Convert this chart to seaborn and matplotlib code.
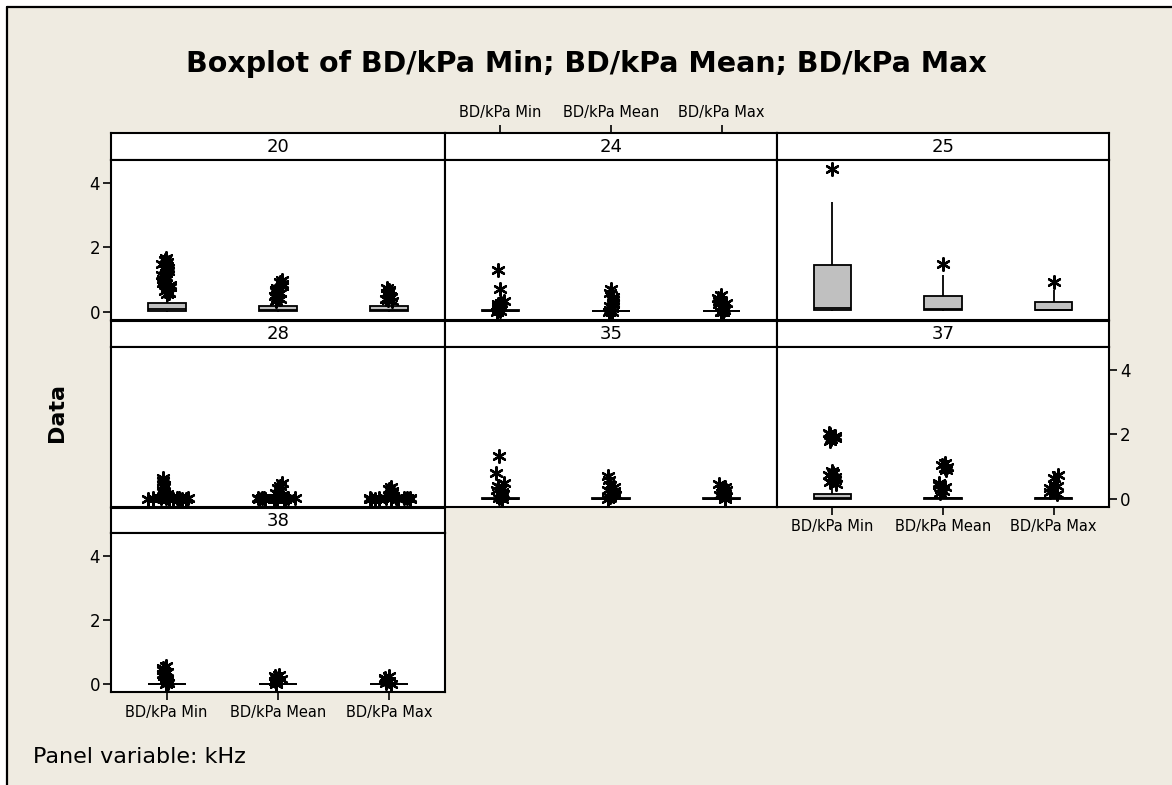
import numpy as np
import pandas as pd
import matplotlib
matplotlib.use('Agg')
import matplotlib.pyplot as plt
import seaborn as sns
from matplotlib.patches import Rectangle
from matplotlib.lines import Line2D

# panels (kHz) and the three measured columns
panels = ['20', '24', '25', '28', '35', '37', '38']
variables = ['BD/kPa Min', 'BD/kPa Mean', 'BD/kPa Max']

# box values per column: lower whisker, Q1, median, Q3, upper whisker  (Min, Mean, Max)
box_20 = [[0.02, 0.05, 0.09, 0.27, 0.47], [0.02, 0.04, 0.07, 0.19, 0.33], [0.02, 0.04, 0.07, 0.19, 0.32]]
box_24 = [[0.0, 0.03, 0.04, 0.06, 0.09], [0.0, 0.03, 0.04, 0.05, 0.08], [0.0, 0.03, 0.04, 0.05, 0.08]]
box_25 = [[0.05, 0.07, 0.12, 1.45, 3.39], [0.05, 0.07, 0.11, 0.51, 1.14], [0.05, 0.07, 0.08, 0.32, 0.69]]
box_28 = [[0.0, 0.01, 0.02, 0.03, 0.04], [0.0, 0.01, 0.02, 0.03, 0.04], [0.0, 0.01, 0.02, 0.03, 0.04]]
box_35 = [[0.0, 0.01, 0.02, 0.03, 0.04], [0.0, 0.01, 0.02, 0.03, 0.04], [0.0, 0.01, 0.02, 0.03, 0.04]]
box_37 = [[0.0, 0.01, 0.05, 0.17, 0.42], [0.0, 0.02, 0.03, 0.05, 0.07], [0.0, 0.02, 0.03, 0.05, 0.07]]
box_38 = [[-0.01, 0.0, 0.01, 0.02, 0.03], [-0.01, 0.0, 0.01, 0.02, 0.03], [-0.01, 0.0, 0.01, 0.02, 0.03]]

# outliers (asterisks)
out_20 = [[0.55, 0.6, 0.65, 0.7, 0.78, 0.85, 0.9, 0.96, 1.02, 1.08, 1.14, 1.2, 1.26, 1.32, 1.38, 1.44, 1.5, 1.56, 1.62, 1.66],
          [0.36, 0.4, 0.45, 0.5, 0.55, 0.6, 0.65, 0.7, 0.75, 0.8, 0.86, 0.92, 0.98],
          [0.34, 0.38, 0.42, 0.46, 0.5, 0.55, 0.6, 0.65, 0.7, 0.74]]
out_24 = [[1.31, 0.73, 0.36, 0.3, 0.25, 0.2, 0.15, 0.12, 0.1, 0.05, 0.0],
          [0.72, 0.58, 0.48, 0.38, 0.3, 0.24, 0.18, 0.12, 0.08, 0.02, 0.0],
          [0.52, 0.44, 0.36, 0.3, 0.24, 0.18, 0.12, 0.06, 0.02, 0.0]]
out_25 = [[4.41], [1.49], [0.93]]
out_28 = [[0.65, 0.55, 0.45, 0.38, 0.3, 0.22, 0.15, 0.1],
          [0.5, 0.42, 0.35, 0.28, 0.2, 0.14, 0.09],
          [0.38, 0.32, 0.26, 0.2, 0.14, 0.09]]
# tied low values in kHz 28, spread sideways like Minitab does
ties_28 = [[0.02, 0.03, 0.02, 0.03, 0.02, 0.03, 0.02, 0.03, 0.02, 0.03, 0.02, 0.03, 0.02, 0.03],
           [0.02, 0.03, 0.02, 0.03, 0.02, 0.03, 0.02, 0.03, 0.02, 0.03, 0.02, 0.03, 0.02, 0.03],
           [0.02, 0.03, 0.02, 0.03, 0.02, 0.03, 0.02, 0.03, 0.02, 0.03, 0.02, 0.03, 0.02, 0.03]]
out_35 = [[1.35, 0.8, 0.5, 0.42, 0.35, 0.28, 0.22, 0.16, 0.1, 0.05, 0.0],
          [0.73, 0.6, 0.45, 0.38, 0.3, 0.24, 0.18, 0.12, 0.06, 0.0],
          [0.46, 0.38, 0.3, 0.24, 0.18, 0.12, 0.06, 0.0]]
out_37 = [[2.05, 2.0, 1.95, 1.9, 1.85, 1.8, 0.88, 0.82, 0.76, 0.7, 0.64, 0.58, 0.52, 0.46],
          [1.12, 1.06, 1.0, 0.95, 0.9, 0.5, 0.44, 0.38, 0.32, 0.26, 0.2],
          [0.74, 0.66, 0.4, 0.34, 0.28, 0.22, 0.16]]
out_38 = [[0.56, 0.5, 0.44, 0.38, 0.32, 0.26, 0.2, 0.15, 0.1, 0.05, 0.0],
          [0.3, 0.25, 0.2, 0.15, 0.1, 0.05, 0.0],
          [0.25, 0.2, 0.15, 0.1, 0.05, 0.0]]

boxes = dict(zip(panels, [box_20, box_24, box_25, box_28, box_35, box_37, box_38]))
outs = dict(zip(panels, [out_20, out_24, out_25, out_28, out_35, out_37, out_38]))


def long_table(src):
    rows = []
    for p, groups in src.items():
        for var, vals in zip(variables, groups):
            for v in vals:
                rows.append((p, var, v))
    return pd.DataFrame(rows, columns=['kHz', 'col', 'value'])


box_df = long_table(boxes)
out_df = long_table(outs)
tie_df = long_table({'28': ties_28})

np.random.seed(3)  # only for the sideways jitter of asterisks

sns.set_style('white')
plt.rcParams['font.family'] = ['DejaVu Sans']
plt.rcParams['text.color'] = 'black'
plt.rcParams['xtick.color'] = 'black'
plt.rcParams['ytick.color'] = 'black'
plt.rcParams['axes.labelcolor'] = 'black'

W, H = 1172, 785
BG = '#EFEBE1'


def rect(x0, y0, x1, y1):
    return [x0 / W, 1 - y1 / H, (x1 - x0) / W, (y1 - y0) / H]


fig = plt.figure(figsize=(W / 100, H / 100), dpi=100, facecolor='white')
fig.patches.append(Rectangle((8 / W, 0), 1, 1 - 8 / H, transform=fig.transFigure, facecolor=BG, edgecolor='none', zorder=-5))
fig.add_artist(Line2D([7 / W, 1], [1 - 7 / H, 1 - 7 / H], color='black', lw=1.6))
fig.add_artist(Line2D([7 / W, 7 / W], [0, 1 - 7 / H], color='black', lw=1.6))

col_edges = [(111, 445), (445, 777), (777, 1109)]
row_edges = [(133, 160, 320), (321, 347, 507), (508, 533, 692)]
YLIM = (-0.24, 4.70)

for k, p in enumerate(panels):
    r, c = divmod(k, 3)
    x0, x1 = col_edges[c]
    ys, yp, yb = row_edges[r]

    # strip with the panel value
    sax = fig.add_axes(rect(x0, ys, x1, yp))
    sax.set_facecolor('white')
    sax.set_xlim(-0.5, 2.5)
    sax.set_ylim(0, 1)
    sax.set_xticks([])
    sax.set_yticks([])
    for s in sax.spines.values():
        s.set_linewidth(1.5)
        s.set_color('black')
    sax.text(1, 0.5, p, ha='center', va='center', fontsize=13)

    ax = fig.add_axes(rect(x0, yp, x1, yb))
    ax.set_facecolor('white')
    ax.set_xlim(-0.5, 2.5)
    ax.set_ylim(*YLIM)

    sns.boxplot(data=box_df[box_df['kHz'] == p], x='col', y='value', order=variables,
                color='#C0C0C0', saturation=1, width=0.34, whis=(0, 100),
                linecolor='black', linewidth=1.3, showcaps=False, showfliers=False, ax=ax)
    sns.stripplot(data=out_df[out_df['kHz'] == p], x='col', y='value', order=variables,
                  jitter=0.04, color='black', marker=(6, 2, 0), size=9, linewidth=1.7,
                  zorder=4, ax=ax)
    if p == '28':
        sns.stripplot(data=tie_df, x='col', y='value', order=variables,
                      jitter=0.2, color='black', marker=(6, 2, 0), size=9, linewidth=1.7,
                      zorder=4, ax=ax)

    ax.set_xlim(-0.5, 2.5)
    ax.set_ylim(*YLIM)
    ax.set_xlabel('')
    ax.set_ylabel('')
    ax.set_xticks([])
    ax.set_yticks([])
    for s in ax.spines.values():
        s.set_linewidth(1.5)
        s.set_color('black')
        s.set_visible(True)

    if p in ('20', '38'):
        ax.set_yticks([0, 2, 4])
        ax.tick_params(axis='y', left=True, length=6, width=1.2, labelsize=12, pad=2)
    if p == '37':
        ax.yaxis.tick_right()
        ax.set_yticks([0, 2, 4])
        ax.tick_params(axis='y', right=True, left=False, length=6, width=1.2, labelsize=12, pad=2)
    if p in ('37', '38'):
        ax.set_xticks([0, 1, 2])
        ax.set_xticklabels(variables)
        ax.tick_params(axis='x', bottom=True, length=6, width=1.2, labelsize=10.5, pad=3)
    if p == '24':
        sax.xaxis.tick_top()
        sax.set_xticks([0, 1, 2])
        sax.set_xticklabels(variables)
        sax.tick_params(axis='x', top=True, bottom=False, length=6, width=1.2, labelsize=10.5, pad=3)

fig.text(0.5, 1 - 64 / H, 'Boxplot of BD/kPa Min; BD/kPa Mean; BD/kPa Max',
         ha='center', va='center', fontsize=20.5, fontweight='bold')
fig.text(57 / W, 1 - 413 / H, 'Data', rotation=90, ha='center', va='center',
         fontsize=16, fontweight='bold')
fig.text(33 / W, 1 - 757 / H, 'Panel variable: kHz', ha='left', va='center', fontsize=16)

fig.savefig('out.png', dpi=100, facecolor=fig.get_facecolor())
